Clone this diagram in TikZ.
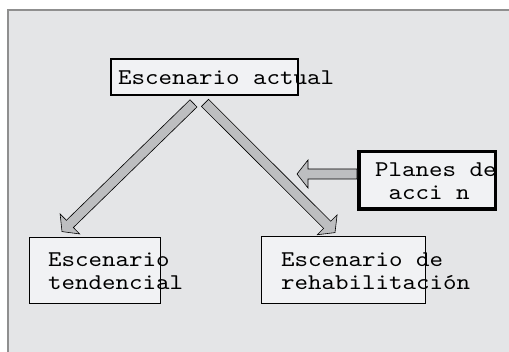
\documentclass[tikz,border=0pt]{standalone}
\usepackage{fontspec}
\newfontfamily\boxfont[FakeStretch=1.143]{lmmono10-regular.otf}
\usetikzlibrary{calc}

\definecolor{bggray}{HTML}{E4E5E7}
\definecolor{framegray}{HTML}{8F8F8F}
\definecolor{boxfill}{HTML}{F1F2F4}
\definecolor{arrowgray}{HTML}{BDBEC0}

\tikzset{
  scenbox/.style={draw, fill=boxfill, line width=1.8pt, inner sep=0pt},
  scentext/.style={inner sep=0pt, align=left, font=\boxfont\fontsize{22.5}{22.5}\selectfont},
  blockarrow/.style={draw, fill=arrowgray, line width=0.6pt, line join=miter}
}

% wide arrow from #1 to the tip #2
\newcommand{\blockarrow}[2]{%
  \draw[blockarrow] let \p1=($(#2)!11pt!(#1)$) in
    ($(#1)!5pt!90:(#2)$) -- ($(\p1)!5pt!-90:(#1)$) -- ($(\p1)!14pt!-90:(#1)$)
    -- (#2) -- ($(\p1)!14pt!90:(#1)$) -- ($(\p1)!5pt!90:(#1)$)
    -- ($(#1)!5pt!-90:(#2)$) -- cycle;}

\begin{document}
\begin{tikzpicture}[x=1pt, y=-1pt]
\useasboundingbox (0,0) rectangle (509,352);
\fill[white] (0,0) rectangle (509,352);
\draw[framegray, line width=2pt, fill=bggray] (8,10) rectangle (530,370);

\path (204.5,77) node[scenbox, minimum width=187pt, minimum height=36pt] (actual) {}
      (95,270.5) node[scenbox, minimum width=131pt, minimum height=66pt] (tend) {}
      (343.5,270) node[scenbox, minimum width=164pt, minimum height=67pt] (rehab) {}
      (427,180.5) node[scenbox, line width=3.5pt, minimum width=136.5pt, minimum height=57.5pt] (planes) {};

\coordinate (tendstart) at ($(actual.south)+(-11,7.5)$);
\coordinate (tendtip) at ($(tend.north)+(-33,-5)$);
\coordinate (rehabstart) at ($(actual.south)+(0.5,7)$);
\coordinate (rehabtip) at ($(rehab.north)+(-8.5,-3)$);
\coordinate (planesstart) at ([yshift=6.5pt]planes.west);
\coordinate (planestip) at ($(planesstart)+(-60,0)$);

\blockarrow{tendstart}{tendtip}
\blockarrow{rehabstart}{rehabtip}
\blockarrow{planesstart}{planestip}

% base of a two-line node is the baseline of its last line
\node[scentext, anchor=base west] (actualtxt) at (118,85) {Escenario actual};
\node[scentext, anchor=base west] (tendtxt) at (48,289.5) {Escenario\\tendencial};
\node[scentext, anchor=base west] (rehabtxt) at (281,289.5) {Escenario de\\rehabilitaci\'on};
\node[scentext, anchor=base west] (planestxt) at (375,199.5) {Planes de\\\hphantom{a}acci n};

\end{tikzpicture}
\end{document}
